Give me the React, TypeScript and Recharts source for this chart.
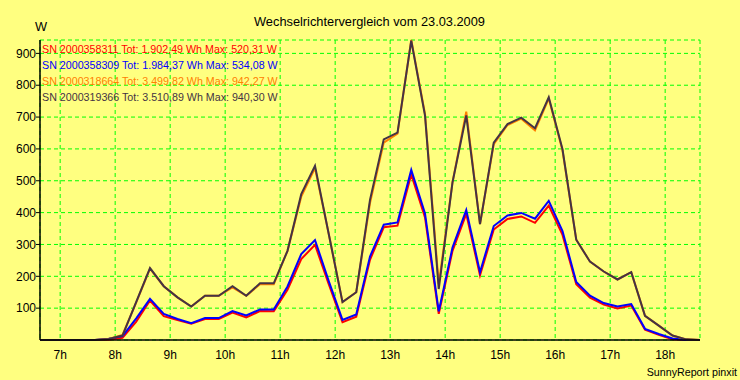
import React from "react";
import { LineChart, Line, XAxis, YAxis, CartesianGrid } from "recharts";

const times = [
  "6:38", "6:53", "7:08", "7:23", "7:38", "7:53", "8:08", "8:23", "8:38", "8:53",
  "9:08", "9:23", "9:38", "9:53", "10:08", "10:23", "10:38", "10:53", "11:08", "11:23",
  "11:38", "11:53", "12:08", "12:23", "12:38", "12:53", "13:08", "13:23", "13:38", "13:53",
  "14:08", "14:23", "14:38", "14:53", "15:08", "15:23", "15:38", "15:53", "16:08", "16:23",
  "16:38", "16:53", "17:08", "17:23", "17:38", "17:53", "18:08", "18:23", "18:38",
];

const sn358311 = [
  0, 0, 0, 0, 0, 1, 7, 58, 124, 75,
  63, 51, 66, 66, 86, 71, 91, 90, 158, 254,
  299, 175, 56, 73, 252, 354, 359, 520, 385, 82,
  280, 396, 203, 347, 380, 388, 368, 422, 330, 175,
  133, 111, 99, 108, 32, 16, 2, 0, 0,
];

const sn358309 = [
  0, 0, 0, 0, 0, 4, 12, 68, 129, 82,
  66, 53, 69, 69, 91, 77, 96, 96, 168, 270,
  314, 185, 63, 80, 262, 362, 369, 534, 397, 90,
  290, 408, 213, 358, 391, 399, 381, 437, 342, 182,
  139, 116, 105, 113, 35, 19, 5, 0, 0,
];

const sn318664 = [
  0, 0, 0, 0, 0, 3, 16, 118, 224, 169,
  134, 105, 139, 139, 165, 139, 175, 175, 280, 450,
  540, 333, 119, 150, 430, 620, 648, 942, 710, 175,
  495, 717, 364, 615, 675, 695, 658, 758, 595, 315,
  246, 215, 190, 213, 76, 45, 14, 2, 0,
];

const sn319366 = [
  0, 0, 0, 0, 0, 3, 14, 120, 226, 169,
  134, 105, 139, 139, 169, 139, 178, 178, 280, 458,
  547, 333, 119, 150, 440, 630, 651, 940, 705, 160,
  495, 705, 364, 620, 678, 698, 665, 762, 599, 315,
  246, 215, 190, 213, 76, 45, 14, 2, 0,
];

const hourTicks = [7, 8, 9, 10, 11, 12, 13, 14, 15, 16, 17, 18];
const wattTicks = [100, 200, 300, 400, 500, 600, 700, 800, 900];

const title = "Wechselrichtervergleich vom 23.03.2009";
const unitLabel = "W";
const footer = "SunnyReport pinxit";
const legendRows = [
  { text: "SN 2000358311 Tot: 1.902,49 Wh Max: 520,31 W", color: "#FF0000" },
  { text: "SN 2000358309 Tot: 1.984,37 Wh Max: 534,08 W", color: "#0000FF" },
  { text: "SN 2000318664 Tot: 3.499,82 Wh Max: 942,27 W", color: "#FF8000" },
  { text: "SN 2000319366 Tot: 3.510,89 Wh Max: 940,30 W", color: "#443344" },
];

const toHours = (s: string) => {
  const [h, m] = s.split(":").map(Number);
  return h + m / 60;
};

const data = times.map((t, i) => ({
  t: toHours(t),
  a: sn358311[i],
  b: sn358309[i],
  c: sn318664[i],
  d: sn319366[i],
}));

const xDomain = [toHours(times[0]), toHours(times[times.length - 1])];
const FONT = "'Liberation Sans', Arial, sans-serif";

export default function App() {
  return (
    <div
      style={{
        position: "absolute",
        left: 0,
        top: 0,
        width: 740,
        height: 380,
        background: "#FFFF80",
        fontFamily: FONT,
      }}
    >
      <LineChart
        width={740}
        height={380}
        data={data}
        margin={{ top: 40, right: 40, bottom: 0, left: 0 }}
      >
        <CartesianGrid stroke="#00FF00" strokeDasharray="4 3" strokeWidth={1} />
        <XAxis
          dataKey="t"
          type="number"
          domain={xDomain}
          ticks={hourTicks}
          tickFormatter={(v: number) => `${v}h`}
          height={40}
          axisLine={{ stroke: "#000000", strokeWidth: 1.5 }}
          tickLine={false}
          tickSize={0}
          tickMargin={10}
          tick={{ fill: "#000000", fontSize: 12, fontFamily: FONT }}
        />
        <XAxis
          xAxisId="top"
          orientation="top"
          dataKey="t"
          type="number"
          domain={xDomain}
          height={0}
          tick={false}
          tickLine={false}
          axisLine={{ stroke: "#000000", strokeWidth: 1.5 }}
        />
        <YAxis
          type="number"
          domain={[0, 942]}
          ticks={wattTicks}
          width={40}
          axisLine={{ stroke: "#000000", strokeWidth: 1.5 }}
          tickLine={{ stroke: "#000000" }}
          tickSize={4}
          tickMargin={0}
          tick={{ fill: "#000000", fontSize: 12, fontFamily: FONT }}
        />
        <YAxis
          yAxisId="right"
          orientation="right"
          type="number"
          domain={[0, 942]}
          width={0}
          tick={false}
          tickLine={false}
          axisLine={{ stroke: "#000000", strokeWidth: 1.5 }}
        />
        <Line type="linear" dataKey="a" stroke="#FF0000" strokeWidth={2} dot={false} isAnimationActive={false} />
        <Line type="linear" dataKey="b" stroke="#0000FF" strokeWidth={2} dot={false} isAnimationActive={false} />
        <Line type="linear" dataKey="c" stroke="#FF8000" strokeWidth={2} dot={false} isAnimationActive={false} />
        <Line type="linear" dataKey="d" stroke="#443344" strokeWidth={2} dot={false} isAnimationActive={false} />
      </LineChart>
      <svg
        width={740}
        height={380}
        style={{ position: "absolute", left: 0, top: 0, pointerEvents: "none" }}
      >
        <text x={369.5} y={25.5} textAnchor="middle" fontSize={12.8} fontFamily={FONT} fill="#000000">
          {title}
        </text>
        <text x={41} y={31.3} textAnchor="middle" fontSize={12.8} fontFamily={FONT} fill="#000000">
          {unitLabel}
        </text>
        {legendRows.map((r, i) => (
          <text key={r.text} x={42} y={53 + i * 16} fontSize={10.7} fontFamily={FONT} fill={r.color}>
            {r.text}
          </text>
        ))}
        <text x={737} y={375.5} textAnchor="end" fontSize={10.7} fontFamily={FONT} fill="#000000">
          {footer}
        </text>
      </svg>
    </div>
  );
}
